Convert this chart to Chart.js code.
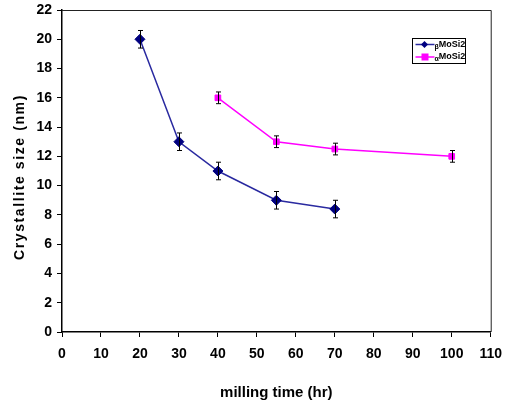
<!DOCTYPE html>
<html>
<head>
<meta charset="utf-8">
<script src="https://cdn.jsdelivr.net/npm/chart.js@4"></script>
<style>
  html, body { margin: 0; padding: 0; background: #fff; }
  #wrap { width: 511px; height: 407px; }
</style>
</head>
<body>
<div id="wrap"><canvas id="chart" width="511" height="407"></canvas></div>
<script>
// beta and alpha MoSi2 crystallite size vs milling time
const betaTime = [20, 30, 40, 55, 70]
const betaSize = [20, 13, 11, 9, 8.4]
const betaErr = [0.6, 0.6, 0.6, 0.6, 0.6]

const alphaTime = [40, 55, 70, 100]
const alphaSize = [16, 13, 12.5, 12]
const alphaErr = [0.4, 0.4, 0.4, 0.4]

const legendNames = [['β', 'MoSi2'], ['α', 'MoSi2']]
const errors = [betaErr, alphaErr]
const yTitle = 'Crystallite size (nm)'

const font = 'Liberation Sans, Arial, sans-serif'
const narrow = 'Liberation Sans Narrow, Arial Narrow, sans-serif'

const errorBars = {
  id: 'errorBars',
  afterDatasetsDraw(chart) {
    const ctx = chart.ctx
    const x = chart.scales.x
    const y = chart.scales.y
    ctx.save()
    ctx.strokeStyle = '#000'
    ctx.lineWidth = 1
    chart.data.datasets.forEach((ds, i) => {
      ds.data.forEach((p, j) => {
        const px = Math.round(x.getPixelForValue(p.x)) + 0.5
        const top = y.getPixelForValue(p.y + errors[i][j])
        const bot = y.getPixelForValue(p.y - errors[i][j])
        ctx.beginPath()
        ctx.moveTo(px, top); ctx.lineTo(px, bot)
        ctx.moveTo(px - 2.5, top); ctx.lineTo(px + 2.5, top)
        ctx.moveTo(px - 2.5, bot); ctx.lineTo(px + 2.5, bot)
        ctx.stroke()
      })
    })
    ctx.restore()
  }
}

const frameAndLegend = {
  id: 'frameAndLegend',
  afterDraw(chart) {
    const ctx = chart.ctx
    const a = chart.chartArea
    ctx.save()
    ctx.strokeStyle = '#222'
    ctx.lineWidth = 1
    ctx.beginPath()
    ctx.moveTo(a.left, a.top + 0.5); ctx.lineTo(a.right + 0.5, a.top + 0.5)
    ctx.lineTo(a.right + 0.5, a.bottom)
    ctx.stroke()

    // y axis title, spaced letters
    ctx.save()
    ctx.translate(20, (a.top + a.bottom) / 2 + 6)
    ctx.rotate(-Math.PI / 2)
    ctx.font = 'bold 14px ' + font
    ctx.letterSpacing = '1.6px'
    ctx.fillStyle = '#000'
    ctx.textAlign = 'center'
    ctx.textBaseline = 'middle'
    ctx.fillText(yTitle, 0, 0)
    ctx.restore()

    // legend box
    const bx = 412.5, by = 38.5, bw = 53, bh = 25
    ctx.fillStyle = '#fff'
    ctx.fillRect(bx, by, bw, bh)
    ctx.strokeStyle = '#000'
    ctx.strokeRect(bx, by, bw, bh)
    chart.data.datasets.forEach((ds, i) => {
      const ry = by + 6 + i * 12.5
      ctx.strokeStyle = ds.borderColor
      ctx.lineWidth = 1.5
      ctx.beginPath()
      ctx.moveTo(bx + 3, ry); ctx.lineTo(bx + 22, ry)
      ctx.stroke()
      ctx.fillStyle = ds.pointBackgroundColor
      if (ds.pointStyle === 'rect') {
        ctx.fillRect(bx + 9, ry - 3.5, 7, 7)
      } else {
        ctx.beginPath()
        ctx.moveTo(bx + 12, ry - 3.5); ctx.lineTo(bx + 15.5, ry)
        ctx.lineTo(bx + 12, ry + 3.5); ctx.lineTo(bx + 8.5, ry)
        ctx.closePath(); ctx.fill()
      }
      ctx.fillStyle = '#000'
      ctx.textBaseline = 'middle'
      ctx.textAlign = 'left'
      ctx.font = 'bold 7px ' + narrow
      ctx.fillText(legendNames[i][0], bx + 22, ry + 2.5)
      const w = ctx.measureText(legendNames[i][0]).width
      ctx.font = 'bold 9px ' + narrow
      ctx.fillText(legendNames[i][1], bx + 22 + w, ry)
    })
    ctx.restore()
  }
}

const chartConfig = {
  type: 'line',
  data: {
    datasets: [
      {
        label: 'βMoSi2',
        data: betaTime.map((t, i) => ({ x: t, y: betaSize[i] })),
        borderColor: '#2a2aa0',
        borderWidth: 1.5,
        pointStyle: 'rectRot',
        pointRadius: 5,
        pointBackgroundColor: '#000080',
        pointBorderColor: '#000080',
        pointBorderWidth: 1,
        tension: 0
      },
      {
        label: 'αMoSi2',
        data: alphaTime.map((t, i) => ({ x: t, y: alphaSize[i] })),
        borderColor: '#ff00ff',
        borderWidth: 1.5,
        pointStyle: 'rect',
        pointRadius: 4,
        pointBackgroundColor: '#ff00ff',
        pointBorderColor: '#ff00ff',
        pointBorderWidth: 1,
        tension: 0
      }
    ]
  },
  options: {
    responsive: false,
    animation: false,
    layout: { padding: { top: 10, right: 19, left: 0, bottom: 0 } },
    plugins: { legend: { display: false }, tooltip: { enabled: false } },
    scales: {
      x: {
        type: 'linear',
        min: 0,
        max: 110,
        ticks: { stepSize: 10, color: '#000', font: { family: narrow, size: 14, weight: 'bold' }, padding: 9, maxRotation: 0 },
        grid: { drawOnChartArea: false, drawTicks: true, tickLength: 5, color: '#000' },
        border: { color: '#000', width: 1.5 },
        title: { display: true, text: 'milling time (hr)', color: '#000', font: { family: narrow, size: 15, weight: 'bold' }, padding: { top: 0, bottom: 5 } },
        afterFit(s) { s.height = 75 }
      },
      y: {
        min: 0,
        max: 22,
        ticks: { stepSize: 2, color: '#000', font: { family: narrow, size: 14, weight: 'bold', lineHeight: 0.7 }, padding: 5 },
        grid: { drawOnChartArea: false, drawTicks: true, tickLength: 5, color: '#000' },
        border: { color: '#000', width: 1.5 },
        afterFit(s) { s.width = 62 }
      }
    }
  },
  plugins: [errorBars, frameAndLegend]
}

new Chart(document.getElementById('chart').getContext('2d'), chartConfig)
</script>
</body>
</html>
